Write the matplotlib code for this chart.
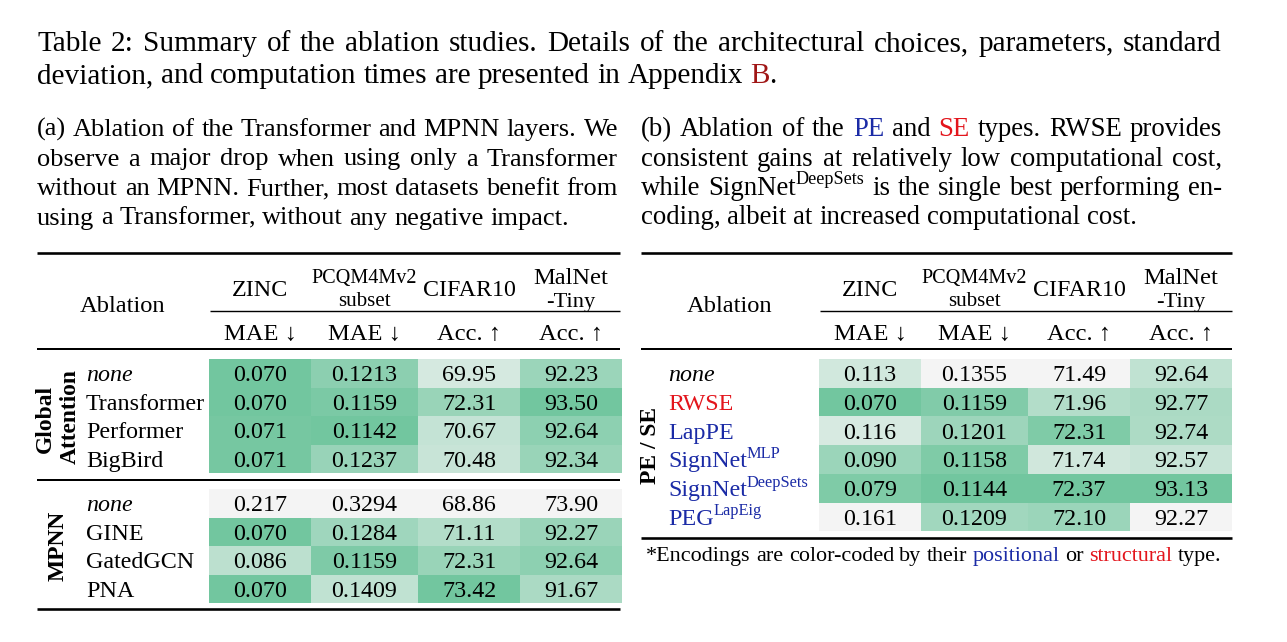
import matplotlib
matplotlib.use('Agg')
import matplotlib.pyplot as plt
from matplotlib.colors import LinearSegmentedColormap
from matplotlib.patches import Rectangle

FAM = ['Liberation Serif', 'DejaVu Serif']
BLUE = '#1b2ba6'
RED = '#e3151c'
DARKRED = '#a01616'

# ---- data, table (a)
rows_attn = ['none', 'Transformer', 'Performer', 'BigBird']
rows_mpnn = ['none', 'GINE', 'GatedGCN', 'PNA']
zinc_a = [0.070, 0.070, 0.071, 0.071, 0.217, 0.070, 0.086, 0.070]
pcqm_a = [0.1213, 0.1159, 0.1142, 0.1237, 0.3294, 0.1284, 0.1159, 0.1409]
cifar_a = [69.95, 72.31, 70.67, 70.48, 68.86, 71.11, 72.31, 73.42]
malnet_a = [92.23, 93.50, 92.64, 92.34, 73.90, 92.27, 92.64, 91.67]
# cell shading (0 = grey, 1 = full green)
shade_zinc_a = [1.0, 1.0, 0.97, 0.97, 0.0, 1.0, 0.43, 1.0]
shade_pcqm_a = [0.80, 0.93, 1.0, 0.71, 0.0, 0.65, 0.91, 0.40]
shade_cifar_a = [0.24, 0.70, 0.37, 0.34, 0.0, 0.50, 0.70, 1.0]
shade_malnet_a = [0.68, 1.0, 0.79, 0.70, 0.0, 0.69, 0.79, 0.56]

# ---- data, table (b)
rows_pe = ['none', 'RWSE', 'LapPE', 'SignNet^MLP', 'SignNet^DeepSets', 'PEG^LapEig']
rows_pe_kind = ['none', 'SE', 'PE', 'PE', 'PE', 'PE']
zinc_b = [0.113, 0.070, 0.116, 0.090, 0.079, 0.161]
pcqm_b = [0.1355, 0.1159, 0.1201, 0.1158, 0.1144, 0.1209]
cifar_b = [71.49, 71.96, 72.31, 71.74, 72.37, 72.10]
malnet_b = [92.64, 92.77, 92.74, 92.57, 93.13, 92.27]
shade_zinc_b = [0.27, 1.0, 0.22, 0.68, 0.90, 0.0]
shade_pcqm_b = [0.0, 0.88, 0.67, 0.90, 1.0, 0.64]
shade_cifar_b = [0.0, 0.50, 0.90, 0.28, 1.0, 0.68]
shade_malnet_b = [0.40, 0.56, 0.55, 0.34, 1.0, 0.0]

decimals = [3, 4, 2, 2]
metrics = ['MAE ↓', 'MAE ↓', 'Acc. ↑', 'Acc. ↑']

title_lines = [
    'Table 2: Summary of the ablation studies. Details of the architectural choices, parameters, standard',
    'deviation, and computation times are presented in Appendix B.',
]
cap_a = [
    '(a) Ablation of the Transformer and MPNN layers. We',
    'observe a major drop when using only a Transformer',
    'without an MPNN. Further, most datasets benefit from',
    'using a Transformer, without any negative impact.',
]
cap_b = [
    '(b) Ablation of the PE and SE types. RWSE provides',
    'consistent gains at relatively low computational cost,',
    'while SignNet^DeepSets is the single best performing en-',
    'coding, albeit at increased computational cost.',
]
foot = '*Encodings are color-coded by their positional or structural type.'

W, H = 1287, 642
fig = plt.figure(figsize=(W / 100, H / 100), dpi=100)
ax = fig.add_axes([0, 0, 1, 1])
ax.set_xlim(0, W)
ax.set_ylim(H, 0)
ax.axis('off')
rend = fig.canvas.get_renderer()
cmap = LinearSegmentedColormap.from_list('gr', ['#f4f4f4', '#72c69f'])


def txt(x, y, s, size, color='black', style='normal', weight='normal', ha='left', va='baseline', rot=0):
    return ax.text(x, y, s, fontsize=size * 0.72, color=color, fontstyle=style,
                   fontweight=weight, family=FAM, ha=ha, va=va, rotation=rot)


def wid(t):
    return t.get_window_extent(rend).width


def space_w(size):
    a = txt(0, 0, 'a a', size)
    b = txt(0, 0, 'aa', size)
    w = wid(a) - wid(b)
    a.remove()
    b.remove()
    return w


def parts_of(word, size, color='black', style='normal'):
    if '^' in word:
        base, sup = word.split('^')
        return [(base, size, color, style, 0), (sup, size * 0.68, color, style, size * 0.4)]
    return [(word, size, color, style, 0)]


def make_word(parts):
    objs = [(txt(0, 0, s, sz, color=c, style=st), rise) for s, sz, c, st, rise in parts]
    return objs, sum(wid(t) for t, _ in objs)


def place_word(objs, x, y):
    for t, rise in objs:
        t.set_position((x, y - rise))
        x += wid(t)
    return x


def colour_map(size, colours):
    return {w: [(w.rstrip('.'), size, c, 'normal', 0)] + ([('.', size, 'black', 'normal', 0)] if w.endswith('.') else [])
            for w, c in colours.items()}


def build(line, size, colours):
    special = colour_map(size, colours)
    return [make_word(special[w]) if w in special else make_word(parts_of(w, size))
            for w in line.split(' ')]


def natural(line, size, colours=None):
    words = build(line, size, colours or {})
    w = sum(v for _, v in words) + space_w(size) * (len(words) - 1)
    for objs, _ in words:
        for t, _ in objs:
            t.remove()
    return w


def fit(line, target, colours=None):
    return 10 * target / natural(line, 10, colours)


def para_line(line, x0, x1, y, size, justify, colours=None):
    words = build(line, size, colours or {})
    total = sum(w for _, w in words)
    gap = (x1 - x0 - total) / (len(words) - 1) if justify else space_w(size)
    x = x0
    for objs, w in words:
        place_word(objs, x, y)
        x += w + gap


# ---- caption text
title_col = {'B.': DARKRED}
TS = fit(title_lines[1], 768, title_col)
TS = min(TS, fit(title_lines[0], 1185 - 13 * 1.5, title_col))
for i, line in enumerate(title_lines):
    para_line(line, 37, 1222, 51 + i * 32, TS, i == 0, title_col)

CSA = fit(cap_a[3], 536)
for i, line in enumerate(cap_a):
    para_line(line, 37, 618, 136 + i * 29.5, CSA, i < 3)
cap_col = {'PE': BLUE, 'SE': RED}
CSB = fit(cap_b[3], 499)
for i, line in enumerate(cap_b):
    para_line(line, 641, 1222, 136 + i * 29.5, CSB, i < 3, cap_col)


# ---- tables
BS = 24


def rule(x0, x1, y, lw):
    ax.plot([x0, x1], [y, y], color='black', lw=lw * 0.72, solid_capstyle='butt')


def header(edges, x0, x1, abl_x):
    cx = [(edges[j] + edges[j + 1]) / 2 for j in range(4)]
    rule(x0, x1, 253, 2.6)
    txt(abl_x, 312, 'Ablation', 24.5, ha='center')
    txt(cx[0], 296, 'ZINC', 24, ha='center')
    txt(cx[1], 283, 'PCQM4Mv2', 20.3, ha='center')
    txt(cx[1], 305.5, 'subset', 21, ha='center')
    txt(cx[2], 296, 'CIFAR10', 24, ha='center')
    txt(cx[3], 284, 'MalNet', 24.5, ha='center')
    txt(cx[3], 306.5, '-Tiny', 22.5, ha='center')
    rule(edges[0] + 1, x1, 311, 1.4)
    for j in range(4):
        txt(cx[j], 340, metrics[j], 24.5, ha='center')
    rule(x0, x1, 349, 2.0)
    return cx


def cells(edges, top, rh, cols, shades):
    cx = [(edges[j] + edges[j + 1]) / 2 for j in range(4)]
    for j in range(4):
        for i, (v, s) in enumerate(zip(cols[j], shades[j])):
            y = top + i * rh
            ax.add_patch(Rectangle((edges[j], y), edges[j + 1] - edges[j], rh,
                                   facecolor=cmap(s), lw=0, antialiased=False))
            txt(cx[j], y + rh / 2 + 8, f'{v:.{decimals[j]}f}', BS, ha='center')


# table (a)
edges_a = [209, 311, 418, 520, 622]
header(edges_a, 37, 620, 123)
RH = 28.5
cols_a = [zinc_a, pcqm_a, cifar_a, malnet_a]
shades_a = [shade_zinc_a, shade_pcqm_a, shade_cifar_a, shade_malnet_a]
n1 = len(rows_attn)
cells(edges_a, 359, RH, [c[:n1] for c in cols_a], [s[:n1] for s in shades_a])
cells(edges_a, 489, RH, [c[n1:] for c in cols_a], [s[n1:] for s in shades_a])
for i, lab in enumerate(rows_attn):
    txt(86, 359 + (i + 0.5) * RH + 8, lab, BS, style='italic' if lab == 'none' else 'normal')
for i, lab in enumerate(rows_mpnn):
    txt(86, 489 + (i + 0.5) * RH + 8, lab, BS, style='italic' if lab == 'none' else 'normal')
txt(45, 419, 'Global', 23.5, weight='bold', ha='center', va='center', rot=90)
txt(70, 417, 'Attention', 23.5, weight='bold', ha='center', va='center', rot=90)
txt(58, 546, 'MPNN', 23.5, weight='bold', ha='center', va='center', rot=90)
rule(37, 620, 480, 2.0)
rule(37, 620, 609, 2.6)

# table (b)
edges_b = [819, 921, 1028, 1130, 1232]
header(edges_b, 641, 1232, 730)
RHB = 28.7
cells(edges_b, 359, RHB, [zinc_b, pcqm_b, cifar_b, malnet_b],
      [shade_zinc_b, shade_pcqm_b, shade_cifar_b, shade_malnet_b])
kind_color = {'none': 'black', 'SE': RED, 'PE': BLUE}
for i, (lab, kind) in enumerate(zip(rows_pe, rows_pe_kind)):
    objs, _ = make_word(parts_of(lab, BS, kind_color[kind], 'italic' if kind == 'none' else 'normal'))
    place_word(objs, 668, 359 + (i + 0.5) * RHB + 8)
txt(650, 445, 'PE / SE', 23.5, weight='bold', ha='center', va='center', rot=90)
rule(641, 1232, 538, 2.6)

foot_col = {'positional': BLUE, 'structural': RED}
FS = fit(foot, 583, foot_col)
para_line(foot, 646, 1229, 561, FS, False, foot_col)

fig.savefig('out.png', dpi=100)
